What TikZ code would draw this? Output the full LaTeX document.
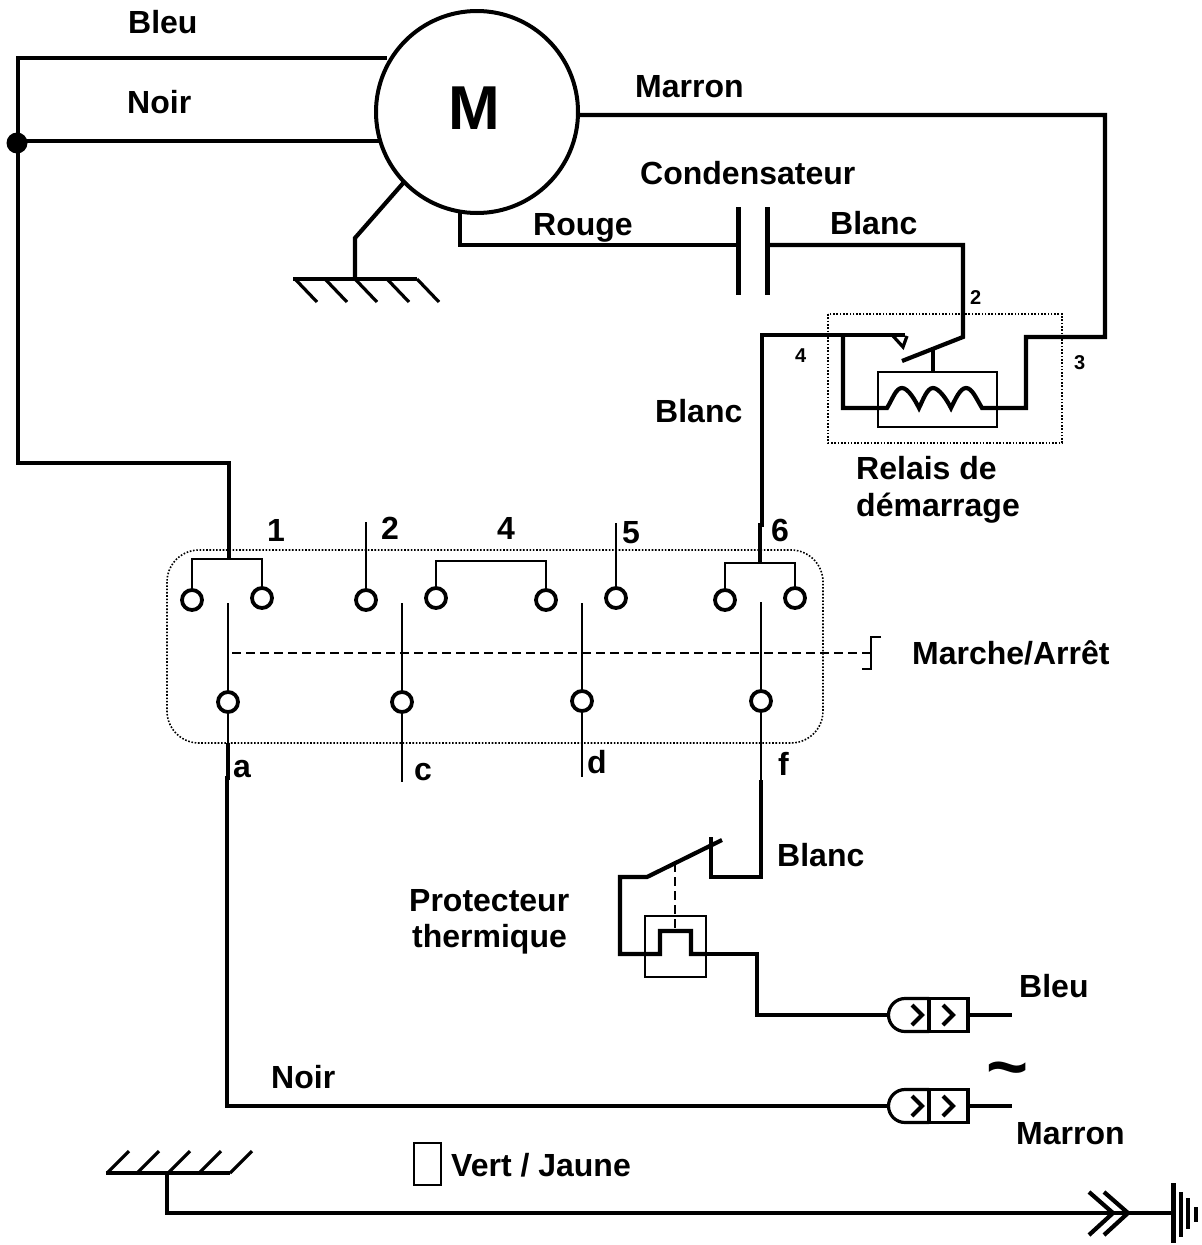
\documentclass[tikz,border=0pt]{standalone}
\usepackage{fontspec}
\setmainfont{Liberation Sans}
\usetikzlibrary{calc}
\tikzset{
  wire/.style={black, line width=4.2pt, line join=miter},
  midwire/.style={black, line width=3.2pt},
  thinwire/.style={black, line width=2.3pt},
  frame/.style={black, line width=1.7pt},
  dotbox/.style={black, line width=1.6pt, dash pattern=on 1.6pt off 1.7pt},
  dashwire/.style={black, line width=2.2pt, dash pattern=on 9pt off 5pt},
  term/.style={circle, draw=black, fill=white, line width=3.8pt, inner sep=0pt, minimum size=20pt},
  lbl/.style={anchor=base west, inner sep=0pt, font=\fontsize{32}{36}\selectfont\bfseries},
  small/.style={anchor=base west, inner sep=0pt, font=\fontsize{20}{24}\selectfont\bfseries}
}
\begin{document}
\begin{tikzpicture}[x=1pt, y=-1pt]
  \useasboundingbox (0,0) rectangle (1202,1245);
  % motor
  \node[circle, draw=black, line width=4pt, minimum size=202pt, inner sep=0pt] (motor) at (477,112) {};
  \node[inner sep=0pt, font=\fontsize{62}{66}\selectfont\bfseries] (mlabel) at (474,108) {M};
  \coordinate (mblue) at (387,58);
  \coordinate (mblack) at (379,141);
  \coordinate (mearth) at (405,181);
  \coordinate (mred) at (460,210);
  \coordinate (mbrown) at (579,115);
  \node[circle, fill=black, inner sep=0pt, minimum size=21pt] (junction) at (17,143) {};
  % switch terminals
  \node[term] (t1a) at (192,600) {};
  \node[term] (t1b) at (262,598) {};
  \node[term] (t2) at (366,600) {};
  \node[term] (t4a) at (436,598) {};
  \node[term] (t4b) at (546,600) {};
  \node[term] (t5) at (616,598) {};
  \node[term] (t6a) at (725,600) {};
  \node[term] (t6b) at (795,598) {};
  \node[term] (ta) at (228,702) {};
  \node[term] (tc) at (402,702) {};
  \node[term] (td) at (582,701) {};
  \node[term] (tf) at (761,701) {};
  % switch box
  \draw[dotbox, rounded corners=32pt] (167,550) rectangle (823,743);
  % left side wiring
  \coordinate (bar1) at (229,559);
  \coordinate (bar6) at (760,563);
  \draw[wire] (mblue) -- (18,58) -- (18,463) -- (229,463) -- (bar1);
  \draw[wire] (mblack) -- (junction |- mblack);
  % earth of the motor
  \draw[wire] (mearth) -- (355,238) -- (355,279);
  \draw[wire] (293,279) -- (417,279);
  \foreach \x in {295,325,355,387,417}
    \draw[midwire] (\x,279) -- ++(22,23);
  % capacitor
  \coordinate (capl) at (738,245);
  \coordinate (capr) at (767,245);
  \draw[wire] (mred) -- (460,245) -- (capl);
  \draw[wire, line width=5pt] (738,207) -- (738,295);
  \draw[wire, line width=5pt] (767,207) -- (767,295);
  % relay
  \coordinate (lever) at (963,337);
  \coordinate (rela) at (843,335);
  \draw[wire] (capr) -- (963,245) -- (lever) -- (902,361);
  \draw[wire] (933,348) -- (933,372);
  \draw[dotbox] (828,314) rectangle (1062,443);
  \draw[frame] (878,372) rectangle (997,427);
  \draw[wire] (mbrown) -- (1105,115) -- (1105,337) -- (1026,337) -- (1026,408) -- (982,408)
    .. controls (976,398) and (972,388) .. (966,388) .. controls (960,388) and (955,400) .. (951,408)
    .. controls (947,400) and (939,388) .. (933,388) .. controls (927,388) and (923,400) .. (919,408)
    .. controls (915,400) and (908,388) .. (902,388) .. controls (896,388) and (893,398) .. (887,408)
    -- (843,408) -- (rela);
  \draw[wire] (bar6) -- (760,525) -- (762,525) -- (762,335) -- (905,335);
  \draw[midwire] (893,336) -- (903,347) -- (907,336);
  % switch
  \draw[thinwire] (t1a) -- (192,559) -- (262,559) -- (t1b);
  \draw[thinwire] (t2) -- (366,522);
  \draw[thinwire] (t4a) -- (436,561) -- (546,561) -- (t4b);
  \draw[thinwire] (t5) -- (616,523);
  \draw[thinwire] (t6a) -- (725,563) -- (795,563) -- (t6b);
  \draw[thinwire] (228,603) -- (ta) -- (228,743);
  \draw[thinwire] (402,603) -- (tc) -- (402,782);
  \draw[thinwire] (582,603) -- (td) -- (582,777);
  \draw[thinwire] (761,602) -- (tf) -- (761,780);
  \draw[dashwire] (232,653) -- (871,653);
  \draw[thinwire] (881,637) -- (871,637) -- (871,669) -- (862,669);
  % plugs
  \foreach \n/\y in {a/1015,b/1106} {
    \draw[midwire] (929,\y-16.5) -- (905,\y-16.5) arc[start angle=90, end angle=270, radius=16.5pt] -- (929,\y+16.5);
    \draw[midwire] (929,\y-16.5) rectangle (968,\y+16.5);
    \draw[wire] (912,\y-10) -- (922,\y) -- (912,\y+10);
    \draw[wire] (943,\y-10) -- (953,\y) -- (943,\y+10);
    \coordinate (plugl\n) at (889,\y);
    \coordinate (plugr\n) at (968,\y);
    \coordinate (plugend\n) at (1012,\y);
    \draw[midwire] (plugr\n) -- (plugend\n);
  }
  % thermal protector
  \draw[wire] (761,780) -- (761,877) -- (711,877) -- (711,837);
  \draw[wire] (722,840) -- (647,877) -- (620,877) -- (620,954) -- (660,954) -- (660,931) -- (691,931) -- (691,954) -- (706,954);
  \draw[midwire] (706,954) -- (757,954);
  \draw[wire] (757,952) -- (757,1015) -- (plugla);
  \draw[frame] (645,916) rectangle (706,977);
  \draw[dashwire] (675,863) -- (675,930);
  % black wire
  \draw[wire] (228,743) -- (228,778) -- (227,778) -- (227,1106) -- (pluglb);
  % earth at the bottom
  \coordinate (chev) at (1128,1213);
  \draw[wire] (167,1173) -- (167,1213) -- (chev) -- (1173,1213);
  \draw[wire] (106,1173) -- (230,1173);
  \foreach \x in {107,137,168,199,230}
    \draw[midwire] (\x,1173) -- ++(22,-22);
  \draw[wire] (1089,1192) -- (1113,1213) -- (1089,1235);
  \draw[wire] (1104,1192) -- (1128,1213) -- (1104,1235);
  \draw[wire, line width=5pt] (1173,1183) -- (1173,1243);
  \draw[wire, line width=4pt] (1181,1192) -- (1181,1237);
  \draw[wire, line width=4pt] (1188,1198) -- (1188,1229);
  \draw[wire, line width=4pt] (1196,1207) -- (1196,1222);
  \draw[frame] (414,1143) rectangle (441,1185);
  % labels
  \node[lbl] (lbleu) at (128,33) {Bleu};
  \node[lbl] (lnoir) at (127,113) {Noir};
  \node[lbl] (lmarron) at (635,97) {Marron};
  \node[lbl] (lcond) at (640,184) {Condensateur};
  \node[lbl] (lrouge) at (533,235) {Rouge};
  \node[lbl] (lblanc) at (830,234) {Blanc};
  \node[small] (n2) at (970,304) {2};
  \node[small] (n4) at (795,362) {4};
  \node[small] (n3) at (1074,369) {3};
  \node[lbl] (lblanc2) at (655,422) {Blanc};
  \node[lbl] (lrelais) at (856,479) {Relais de};
  \node[lbl] (ldem) at (856,516) {démarrage};
  \node[lbl] (s1) at (267,541) {1};
  \node[lbl] (s2) at (381,539) {2};
  \node[lbl] (s4) at (497,539) {4};
  \node[lbl] (s5) at (622,543) {5};
  \node[lbl] (s6) at (771,541) {6};
  \node[lbl] (lmarche) at (912,664) {Marche/Arrêt};
  \node[lbl] (sa) at (233,777) {a};
  \node[lbl] (sc) at (414,780) {c};
  \node[lbl] (sd) at (587,773) {d};
  \node[lbl] (sf) at (778,775) {f};
  \node[lbl] (lblanc3) at (777,866) {Blanc};
  \node[lbl] (lprot) at (409,911) {Protecteur};
  \node[lbl] (lther) at (412,947) {thermique};
  \node[lbl] (lbleu2) at (1019,997) {Bleu};
  \node[lbl] (lnoir2) at (271,1088) {Noir};
  \node[lbl] (lmarron2) at (1016,1144) {Marron};
  \node[lbl] (lvert) at (451,1176) {Vert / Jaune};
  \node[inner sep=0pt, font=\fontsize{72}{76}\selectfont\bfseries] (tilde) at (1008,1077) {\char"007E};
\end{tikzpicture}
\end{document}
